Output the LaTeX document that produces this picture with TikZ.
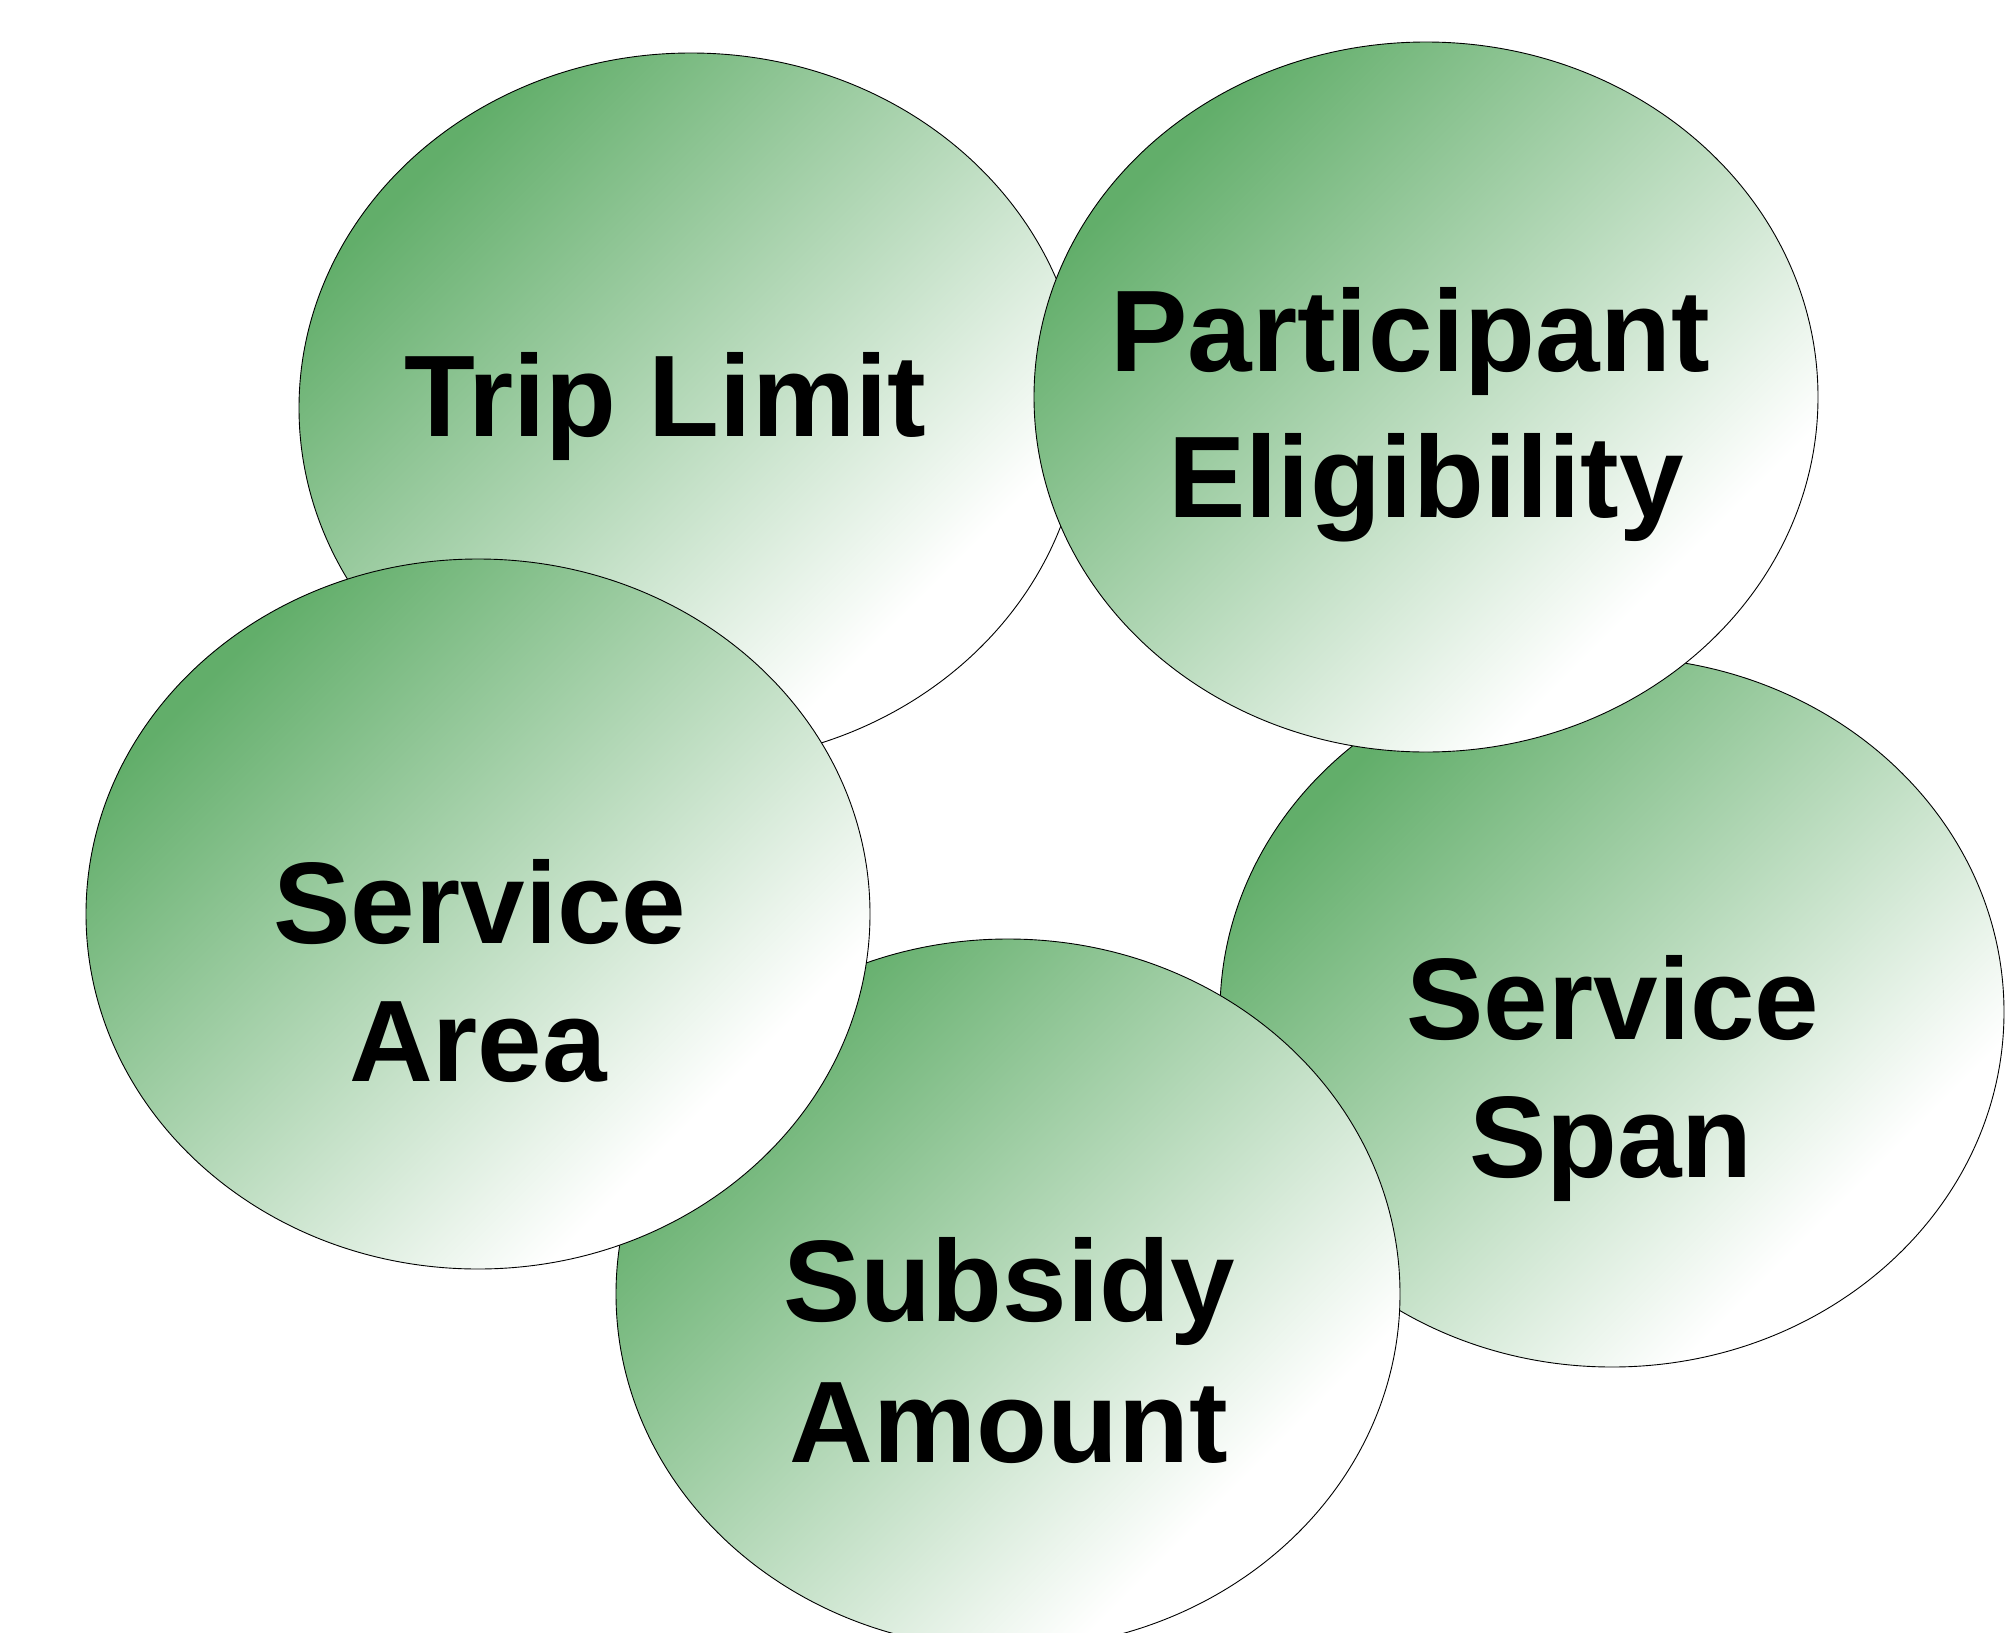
\documentclass[tikz,border=0pt]{standalone}
\usepackage{fontspec}
\setmainfont{Liberation Sans}
\usetikzlibrary{shapes.geometric}
% green-to-white fade, green end at the top
\pgfdeclareverticalshading{greenfade}{100bp}{%
  rgb(0bp)=(1,1,1);
  rgb(30bp)=(1,1,1);
  rgb(74bp)=(0.384,0.682,0.416);
  rgb(100bp)=(0.384,0.682,0.416)}
\tikzset{
  bubble/.style={ellipse, draw=black, line width=0.9pt,
    minimum width=784pt, minimum height=710pt, inner sep=0pt,
    shading=greenfade, shading angle=45},
  lbl/.style={anchor=base, inner sep=0pt, text=black,
    font=\fontsize{116}{140}\selectfont\bfseries}
}
\begin{document}
\begin{tikzpicture}[x=1pt,y=-1pt]
  \useasboundingbox (0,0) rectangle (2011,1633);
  \begin{scope}
    \clip (0,0) rectangle (2011,1633);
    % bubbles, back to front
    \node[bubble] (trip) at (691,408) {};
    \node[bubble] (span) at (1612,1012) {};
    \node[bubble] (subsidy) at (1008,1294) {};
    \node[bubble] (area) at (478,914) {};
    \node[bubble] (part) at (1426,397) {};
  \end{scope}
  % labels
  \node[lbl] (tripA) at (665,436) {Trip Limit};
  \node[lbl] (partA) at (1410,371) {Participant};
  \node[lbl] (partB) at (1426,517) {Eligibility};
  \node[lbl] (areaA) at (480,943) {Service};
  \node[lbl] (areaB) at (478,1081) {Area};
  \node[lbl] (spanA) at (1613,1039) {Service};
  \node[lbl] (spanB) at (1611,1177) {Span};
  \node[lbl] (subsA) at (1009,1321) {Subsidy};
  \node[lbl] (subsB) at (1009,1462) {Amount};
\end{tikzpicture}
\end{document}
